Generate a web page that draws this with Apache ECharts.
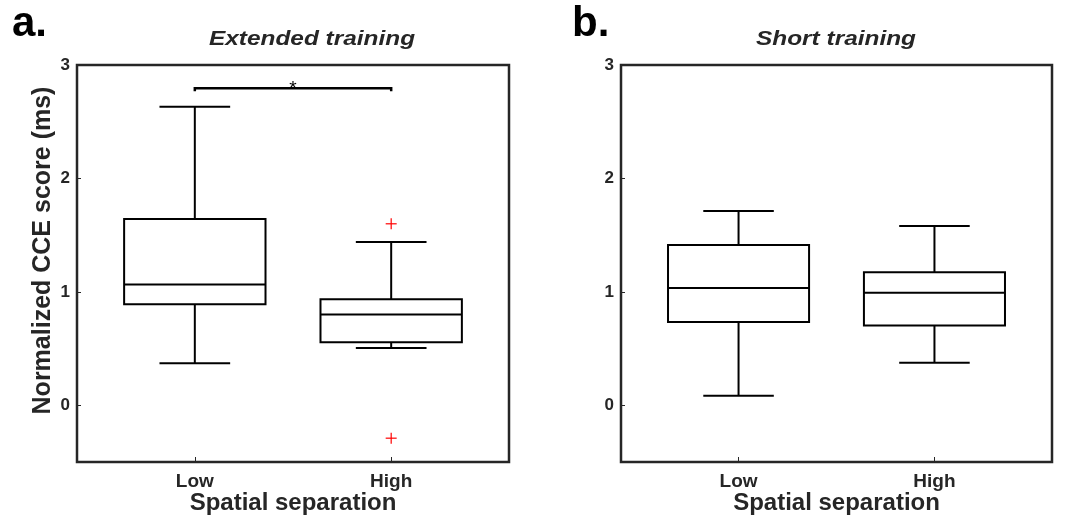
<!DOCTYPE html>
<html>
<head>
<meta charset="utf-8">
<script src="https://cdn.jsdelivr.net/npm/echarts@6/dist/echarts.min.js"></script>
<style>
  html, body { margin: 0; padding: 0; background: #fff; }
  #chart { width: 1078px; height: 519px; }
</style>
</head>
<body>
<div id="chart"></div>
<script>
// categories on the x axis (positions 1 and 2)
var categories = ['Low', 'High'];
var yTicks = [0, 1, 2, 3];

// box values: [min whisker, Q1, median, Q3, max whisker]
var extendedLow = [0.37, 0.89, 1.065, 1.643, 2.633];
var extendedHigh = [0.505, 0.555, 0.80, 0.935, 1.44];
var extendedOutliers = [[2, 1.60], [2, -0.29]];
var shortLow = [0.085, 0.735, 1.035, 1.412, 1.712];
var shortHigh = [0.375, 0.703, 0.992, 1.173, 1.58];
var shortOutliers = [];

// significance bracket for extended training: [from, to, height]
var extendedSig = [[1, 2, 2.795]];

var textColor = '#262626';
var fontFam = '"Liberation Sans", Arial, sans-serif';
var boxWidth = 0.72, capWidth = 0.36;

function boxRows(low, high) {
    return [[1].concat(low), [2].concat(high)];
}

function renderBox(params, api) {
    var x = api.value(0);
    var lo = api.coord([x, api.value(1)]);
    var q1 = api.coord([x, api.value(2)]);
    var med = api.coord([x, api.value(3)]);
    var q3 = api.coord([x, api.value(4)]);
    var hi = api.coord([x, api.value(5)]);
    var half = api.size([boxWidth, 0])[0] / 2;
    var cap = api.size([capWidth, 0])[0] / 2;
    var st = { stroke: '#000', lineWidth: 2, fill: null };
    return {
        type: 'group',
        children: [
            { type: 'line', shape: { x1: lo[0], y1: lo[1], x2: q1[0], y2: q1[1] }, style: st },
            { type: 'line', shape: { x1: q3[0], y1: q3[1], x2: hi[0], y2: hi[1] }, style: st },
            { type: 'line', shape: { x1: lo[0] - cap, y1: lo[1], x2: lo[0] + cap, y2: lo[1] }, style: st },
            { type: 'line', shape: { x1: hi[0] - cap, y1: hi[1], x2: hi[0] + cap, y2: hi[1] }, style: st },
            { type: 'rect', shape: { x: q3[0] - half, y: q3[1], width: half * 2, height: q1[1] - q3[1] }, style: st },
            { type: 'line', shape: { x1: med[0] - half, y1: med[1], x2: med[0] + half, y2: med[1] }, style: st }
        ]
    };
}

function renderOutlier(params, api) {
    var p = api.coord([api.value(0), api.value(1)]);
    var st = { stroke: '#ff0000', lineWidth: 1.2 };
    return {
        type: 'group',
        children: [
            { type: 'line', shape: { x1: p[0] - 5.5, y1: p[1], x2: p[0] + 5.5, y2: p[1] }, style: st },
            { type: 'line', shape: { x1: p[0], y1: p[1] - 5.5, x2: p[0], y2: p[1] + 5.5 }, style: st }
        ]
    };
}

function renderSig(params, api) {
    var a = api.coord([api.value(0), api.value(2)]);
    var b = api.coord([api.value(1), api.value(2)]);
    return {
        type: 'group',
        children: [
            { type: 'polyline', shape: { points: [[a[0], a[1] + 3], a, b, [b[0], b[1] + 3]] },
              style: { stroke: '#000', lineWidth: 2.5, fill: null } },
            { type: 'text', x: (a[0] + b[0]) / 2, y: a[1] - 9,
              style: { text: '*', fill: '#000', font: '19px ' + fontFam, textAlign: 'center', textVerticalAlign: 'top' } }
        ]
    };
}

function makeXAxis(idx) {
    return {
        type: 'value', gridIndex: idx, min: 0.4, max: 2.6,
        name: 'Spatial separation', nameLocation: 'middle', nameGap: 29, nameMoveOverlap: false,
        nameTextStyle: { color: textColor, fontSize: 24, fontWeight: 'bold', fontFamily: fontFam },
        axisLine: { show: false, onZero: false },
        splitLine: { show: false },
        axisTick: { show: true, inside: true, length: 5, customValues: [1, 2], lineStyle: { color: textColor, width: 1 } },
        axisLabel: {
            customValues: [1, 2], margin: 10, color: textColor, fontSize: 19, fontWeight: 'bold', fontFamily: fontFam,
            formatter: function (v) { return categories[Math.round(v) - 1]; }
        }
    };
}

function makeYAxis(idx, name) {
    return {
        type: 'value', gridIndex: idx, min: -0.5, max: 3,
        name: name, nameLocation: 'middle', nameGap: 21, nameMoveOverlap: false,
        nameTextStyle: { color: textColor, fontSize: 25, fontWeight: 'bold', fontFamily: fontFam, padding: [0, 0, 0, 26] },
        axisLine: { show: false, onZero: false },
        splitLine: { show: false },
        axisTick: { show: true, inside: true, length: 4, customValues: yTicks, lineStyle: { color: textColor, width: 1 } },
        axisLabel: { customValues: yTicks, margin: 7, color: textColor, fontSize: 17, fontWeight: 'bold', fontFamily: fontFam }
    };
}

var dom = document.getElementById('chart');
var chart = echarts.init(dom, null, { renderer: 'canvas' });

var option = {
    animation: false,
    backgroundColor: '#fff',
    grid: [
        { left: 77, top: 65, width: 432, height: 397, containLabel: false, outerBoundsMode: 'none',
          show: true, borderColor: textColor, borderWidth: 2.5, backgroundColor: 'transparent' },
        { left: 621, top: 65, width: 431, height: 397, containLabel: false, outerBoundsMode: 'none',
          show: true, borderColor: textColor, borderWidth: 2.5, backgroundColor: 'transparent' }
    ],
    xAxis: [makeXAxis(0), makeXAxis(1)],
    yAxis: [makeYAxis(0, 'Normalized CCE score (ms)'), makeYAxis(1, '')],
    graphic: [
        { type: 'text', x: 12, y: 24, style: { text: 'a.', fill: '#000', font: 'bold 42px ' + fontFam, textVerticalAlign: 'middle' } },
        { type: 'text', x: 572, y: 24, style: { text: 'b.', fill: '#000', font: 'bold 42px ' + fontFam, textVerticalAlign: 'middle' } },
        { type: 'text', x: 312, y: 39, scaleX: 1.22, style: { text: 'Extended training', fill: textColor, font: 'italic bold 20px ' + fontFam, textAlign: 'center', textVerticalAlign: 'middle' } },
        { type: 'text', x: 836, y: 39, scaleX: 1.22, style: { text: 'Short training', fill: textColor, font: 'italic bold 20px ' + fontFam, textAlign: 'center', textVerticalAlign: 'middle' } }
    ],
    series: [
        { type: 'custom', xAxisIndex: 0, yAxisIndex: 0, renderItem: renderBox, encode: { x: 0, y: [1, 2, 3, 4, 5] }, data: boxRows(extendedLow, extendedHigh) },
        { type: 'custom', xAxisIndex: 0, yAxisIndex: 0, renderItem: renderOutlier, encode: { x: 0, y: 1 }, data: extendedOutliers },
        { type: 'custom', xAxisIndex: 0, yAxisIndex: 0, renderItem: renderSig, encode: { x: [0, 1], y: 2 }, data: extendedSig },
        { type: 'custom', xAxisIndex: 1, yAxisIndex: 1, renderItem: renderBox, encode: { x: 0, y: [1, 2, 3, 4, 5] }, data: boxRows(shortLow, shortHigh) },
        { type: 'custom', xAxisIndex: 1, yAxisIndex: 1, renderItem: renderOutlier, encode: { x: 0, y: 1 }, data: shortOutliers }
    ]
};

chart.setOption(option);
</script>
</body>
</html>
